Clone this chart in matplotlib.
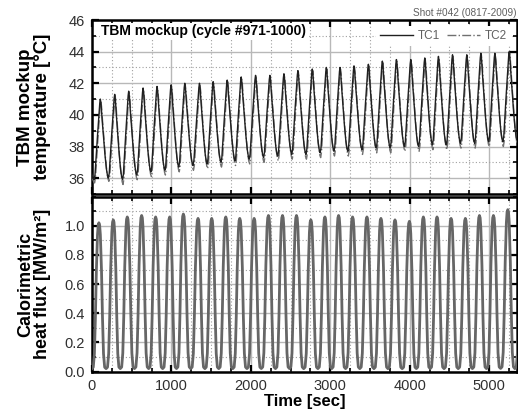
import matplotlib

matplotlib.use("Agg")

import matplotlib.pyplot as plt
from matplotlib.ticker import MultipleLocator

plt.rcParams["font.family"] = ["Liberation Sans", "DejaVu Sans"]

# time of each TC1 temperature peak [sec], cycles #971-1000
peak_time = [105, 286, 462, 643, 819, 996, 1168, 1353, 1525, 1702,
             1878, 2059, 2239, 2416, 2592, 2773, 2950, 3122, 3298, 3479,
             3655, 3832, 4013, 4189, 4361, 4538, 4718, 4895, 5071, 5252]
cycle_len = 177.5

# TC1 peaks, and troughs (one before each peak + one after the last)
tc1_peak = [41.0, 41.3, 41.5, 41.7, 41.8, 41.9, 42.0, 42.0, 42.1, 42.2,
            42.4, 42.5, 42.5, 42.6, 42.8, 42.9, 43.0, 43.0, 43.1, 43.2,
            43.4, 43.5, 43.5, 43.6, 43.7, 43.8, 43.8, 43.9, 43.9, 44.0]
tc1_trough = [35.9, 36.0, 35.9, 36.2, 36.4, 36.5, 36.7, 36.8, 36.9, 37.0,
              37.1, 37.2, 37.3, 37.4, 37.5, 37.5, 37.6, 37.7, 37.7, 37.8,
              37.9, 37.9, 38.0, 38.0, 38.1, 38.1, 38.2, 38.2, 38.3, 38.3, 38.4]
tc1_ends = (38.0, 44.1)

tc2_peak = [40.9, 41.2, 41.4, 41.6, 41.7, 41.8, 41.9, 41.9, 42.0, 42.1,
            42.3, 42.4, 42.4, 42.5, 42.7, 42.8, 42.9, 42.9, 43.0, 43.1,
            43.3, 43.4, 43.4, 43.5, 43.6, 43.7, 43.7, 43.8, 43.8, 43.9]
tc2_trough = [35.7, 35.8, 35.6, 35.9, 36.1, 36.2, 36.4, 36.5, 36.6, 36.7,
              36.8, 36.9, 37.0, 37.1, 37.2, 37.2, 37.3, 37.4, 37.4, 37.5,
              37.6, 37.6, 37.7, 37.7, 37.8, 37.8, 37.9, 37.9, 38.0, 38.0, 38.1]
tc2_ends = (37.8, 44.0)
tc2_delay = 6.0

# one temperature cycle, peak to next peak: phase and fraction of swing
temp_phase = [0.0, 0.05, 0.12, 0.22, 0.32, 0.42, 0.50, 0.56,
              0.62, 0.70, 0.80, 0.90, 0.96]
temp_shape = [1.0, 0.93, 0.75, 0.52, 0.30, 0.12, 0.03, 0.0,
              0.06, 0.28, 0.55, 0.80, 0.95]
temp_low_phase = 0.56

# heat flux peak of each cycle [MW/m2] (+ one beyond the right edge)
flux_peak = [1.02, 1.04, 1.06, 1.07, 1.06, 1.06, 1.08, 1.05, 1.05, 1.06,
             1.05, 1.05, 1.07, 1.07, 1.07, 1.04, 1.06, 1.07, 1.06, 1.06,
             1.05, 1.04, 1.03, 1.06, 1.06, 1.05, 1.05, 1.07, 1.07, 1.11, 1.05]
flux_lead = 18.0
flux_phase = [-0.5, -0.4, -0.32, -0.25, -0.18, -0.10, -0.05, 0.0,
              0.05, 0.10, 0.18, 0.25, 0.32, 0.4]
flux_shape = [0.02, 0.03, 0.12, 0.36, 0.68, 0.92, 0.985, 1.0,
              0.985, 0.92, 0.68, 0.36, 0.12, 0.03]


def temperature_trace(peaks, troughs, ends, delay):
    times = [peak_time[0] - cycle_len] + peak_time + [peak_time[-1] + cycle_len]
    tops = [ends[0]] + peaks + [ends[1]]
    t_out, v_out = [], []
    for k in range(len(times) - 1):
        t0, t1, low = times[k], times[k + 1], troughs[k]
        for u, s in zip(temp_phase, temp_shape):
            top = tops[k] if u <= temp_low_phase else tops[k + 1]
            t_out.append(t0 + u * (t1 - t0) + delay)
            v_out.append(low + (top - low) * s)
    return t_out, v_out


def flux_trace():
    centers = [t - flux_lead for t in peak_time] + [peak_time[-1] + cycle_len - flux_lead]
    t_out, v_out = [], []
    for k, c in enumerate(centers):
        left = c - (c - centers[k - 1]) / 2 if k > 0 else c - cycle_len / 2
        right = (centers[k + 1] + c) / 2 if k + 1 < len(centers) else c + cycle_len / 2
        for u, s in zip(flux_phase, flux_shape):
            t_out.append(c + u * 2 * ((c - left) if u < 0 else (right - c)))
            v_out.append(flux_peak[k] * s)
    return t_out, v_out


fig = plt.figure(figsize=(5.18, 4.16), dpi=100)
ax1 = fig.add_axes([0.1776, 0.5337, 0.8205, 0.4182])
ax2 = fig.add_axes([0.1776, 0.1065, 0.8205, 0.4211])

t1, v1 = temperature_trace(tc1_peak, tc1_trough, tc1_ends, 0.0)
t2, v2 = temperature_trace(tc2_peak, tc2_trough, tc2_ends, tc2_delay)
ax1.plot(t2, v2, color="#707070", linestyle="-.", linewidth=1.0, label="TC2", zorder=3)
ax1.plot(t1, v1, color="#202020", linewidth=1.0, label="TC1", zorder=4)

tf, vf = flux_trace()
ax2.plot(tf, vf, color="#666666", linewidth=2.0, zorder=3)

for ax in (ax1, ax2):
    ax.set_xlim(0, 5350)
    ax.xaxis.set_major_locator(MultipleLocator(1000))
    ax.xaxis.set_minor_locator(MultipleLocator(250))
    ax.grid(True, which="major", color="#b8b8b8", linewidth=1.0, zorder=0)
    ax.grid(True, which="minor", color="#a0a0a0", linewidth=0.8,
            linestyle=(0, (1, 2)), zorder=0)
    ax.set_axisbelow(True)
    ax.tick_params(which="both", direction="in", top=True, right=True,
                   labelsize=10.5, labelcolor="#303030")
    ax.tick_params(which="major", length=5, width=1.6, pad=5)
    ax.tick_params(which="minor", length=3, width=1.2)
    for side in ax.spines.values():
        side.set_linewidth(1.8)

ax1.set_ylim(35, 46)
ax1.yaxis.set_major_locator(MultipleLocator(2))
ax1.yaxis.set_minor_locator(MultipleLocator(1))
ax1.tick_params(axis="x", labelbottom=False)
ax1.set_ylabel("TBM mockup\ntemperature [°C]", fontsize=13.5, fontweight="bold",
               linespacing=1.0)
ax1.yaxis.set_label_coords(-0.096, 0.5)
ax1.text(0.022, 0.935, "TBM mockup (cycle #971-1000)", transform=ax1.transAxes,
         fontsize=10, fontweight="bold", va="center", ha="left", zorder=5,
         bbox=dict(facecolor="white", edgecolor="none", pad=1))
ax1.legend(handles=ax1.get_lines()[::-1], loc="upper right", ncol=2,
           bbox_to_anchor=(1.0, 1.0), fontsize=8.5, frameon=True,
           facecolor="white", edgecolor="none", framealpha=1, handlelength=2.8,
           columnspacing=0.6, handletextpad=0.4, borderpad=0.35,
           labelcolor="#606060")

ax2.set_ylim(0, 1.2)
ax2.set_yticks([0.0, 0.2, 0.4, 0.6, 0.8, 1.0])
ax2.yaxis.set_major_formatter(plt.FormatStrFormatter("%.1f"))
ax2.yaxis.set_minor_locator(MultipleLocator(0.1))
ax2.set_ylabel("Calorimetric\nheat flux [MW/m²]", fontsize=13, fontweight="bold",
               linespacing=1.0)
ax2.yaxis.set_label_coords(-0.096, 0.5)
ax2.set_xlabel("Time [sec]", fontsize=12, fontweight="bold", labelpad=1)

fig.text(0.797, 0.968, "Shot #042 (0817-2009)", fontsize=7.2, color="#606060",
         ha="left", va="center")

fig.savefig("out.png", dpi=100)
